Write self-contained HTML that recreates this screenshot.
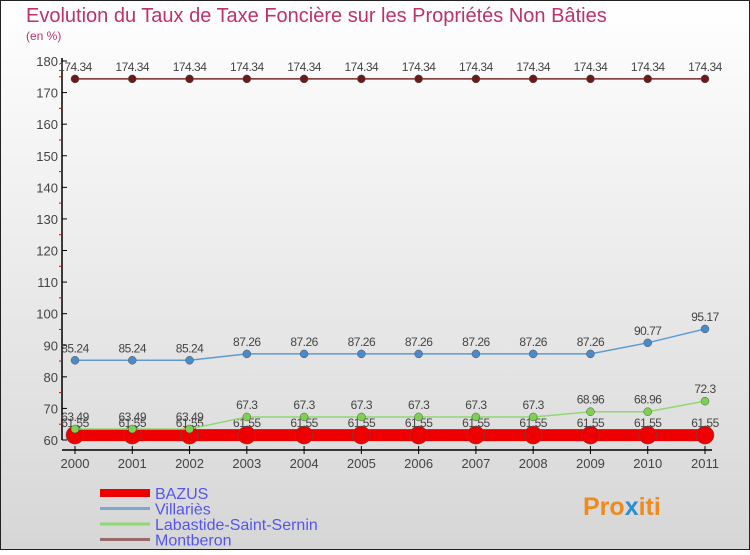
<!DOCTYPE html>
<html><head><meta charset="utf-8">
<style>
html,body{margin:0;padding:0;}
body{width:750px;height:550px;overflow:hidden;font-family:"Liberation Sans",sans-serif;}
svg text{font-family:"Liberation Sans",sans-serif;}
</style></head>
<body>
<svg id="chart" width="750" height="550" xmlns="http://www.w3.org/2000/svg">
<defs>
<linearGradient id="bg" x1="0" y1="0" x2="0" y2="1">
<stop offset="0" stop-color="#ffffff"/><stop offset="1" stop-color="#d6d6d6"/>
</linearGradient>
</defs>
<rect x="0.5" y="0.5" width="749" height="549" fill="url(#bg)" stroke="#222"/>
<text x="26" y="22" font-size="20" fill="#c0306a">Evolution du Taux de Taxe Foncière sur les Propriétés Non Bâties</text>
<text x="26" y="40" font-size="12" fill="#c0306a">(en %)</text>
<g id="axes"></g>
<g id="series"></g>
<g id="legend"></g>
<text x="583" y="515" font-size="25" font-weight="bold" fill="#f08a1c">Pro<tspan fill="#2a8fd0">x</tspan>iti</text>
</svg>
<script>
const years=[2000,2001,2002,2003,2004,2005,2006,2007,2008,2009,2010,2011];
const yTicks=[60,70,80,90,100,110,120,130,140,150,160,170,180];
const bazus=[61.55,61.55,61.55,61.55,61.55,61.55,61.55,61.55,61.55,61.55,61.55,61.55];
const villaries=[85.24,85.24,85.24,87.26,87.26,87.26,87.26,87.26,87.26,87.26,90.77,95.17];
const labastide=[63.49,63.49,63.49,67.3,67.3,67.3,67.3,67.3,67.3,68.96,68.96,72.3];
const montberon=[174.34,174.34,174.34,174.34,174.34,174.34,174.34,174.34,174.34,174.34,174.34,174.34];
const seriesNames=["BAZUS","Villariès","Labastide-Saint-Sernin","Montberon"];
const NS="http://www.w3.org/2000/svg";
const x=i=>75+i*(705-75)/(years.length-1);
const y=v=>440-(v-60)*(440-61)/120;
function mk(tag,attrs,parent,txt){const e=document.createElementNS(NS,tag);for(const k in attrs)e.setAttribute(k,attrs[k]);if(txt!==undefined)e.textContent=txt;parent.appendChild(e);return e;}
const axes=document.getElementById('axes');
let ya=mk('line',{x1:62,y1:58,x2:62,y2:440,stroke:'#000','stroke-width':1.5},axes);


let xa=mk('line',{x1:62,y1:450,x2:712,y2:450,stroke:'#000','stroke-width':1.5},axes);


yTicks.forEach(t=>{
  mk('line',{x1:62,y1:y(t),x2:67,y2:y(t),stroke:'#000'},axes);
  let lb=mk('text',{x:58,y:y(t)+5,'font-size':13,'text-anchor':'end',fill:'#444'},axes,t);
  
  
  if(t<180) mk('line',{x1:59,y1:y(t+5),x2:62,y2:y(t+5),stroke:'#e00'},axes);
});
years.forEach((yr,i)=>{
  mk('line',{x1:x(i),y1:446,x2:x(i),y2:454,stroke:'#000'},axes);
  let lb=mk('text',{x:x(i),y:468,'font-size':13,'text-anchor':'middle',fill:'#444'},axes,yr);
  
  
});
const sg=document.getElementById('series');
function drawSeries(vals,color,width,r,dot,name){
  const g=mk('g',{},sg);
  
  
  mk('polyline',{points:vals.map((v,i)=>x(i)+','+y(v)).join(' '),fill:'none',stroke:color,'stroke-width':width},g);
  vals.forEach((v,i)=>{
    const c=mk('circle',{cx:x(i),cy:y(v),r:r,fill:dot,stroke:'#555','stroke-width':0.5},g);
    
    
    const t=mk('text',{x:x(i),y:y(v)-8,'font-size':12,'text-anchor':'middle',fill:'#444','letter-spacing':'-0.5'},g,v);
    
    
  });
}
drawSeries(montberon,'#7a2a2a',1.5,4,'#6a1a1a','montberon-series');
drawSeries(villaries,'#5b9bd5',1.5,4,'#4a8ac8','villaries-series');
drawSeries(bazus,'#ee0000',12,9,'#ee0000','bazus-series');
drawSeries(labastide,'#90d870',1.5,4,'#7ed050','labastide-series');
const lg=document.getElementById('legend');
const lcol=['#ee0000','#7aaad0','#90d870','#9a6a6a'];
const lw=[8,3,3,3];
seriesNames.forEach((n,i)=>{
  const ly=493+i*15.5;
  const g=mk('g',{},lg);
  
  
  mk('line',{x1:100,y1:ly,x2:150,y2:ly,stroke:lcol[i],'stroke-width':lw[i]},g);
  mk('text',{x:155,y:ly+6,'font-size':16,fill:'#5555ee'},g,n);
});
</script>
</body></html>
